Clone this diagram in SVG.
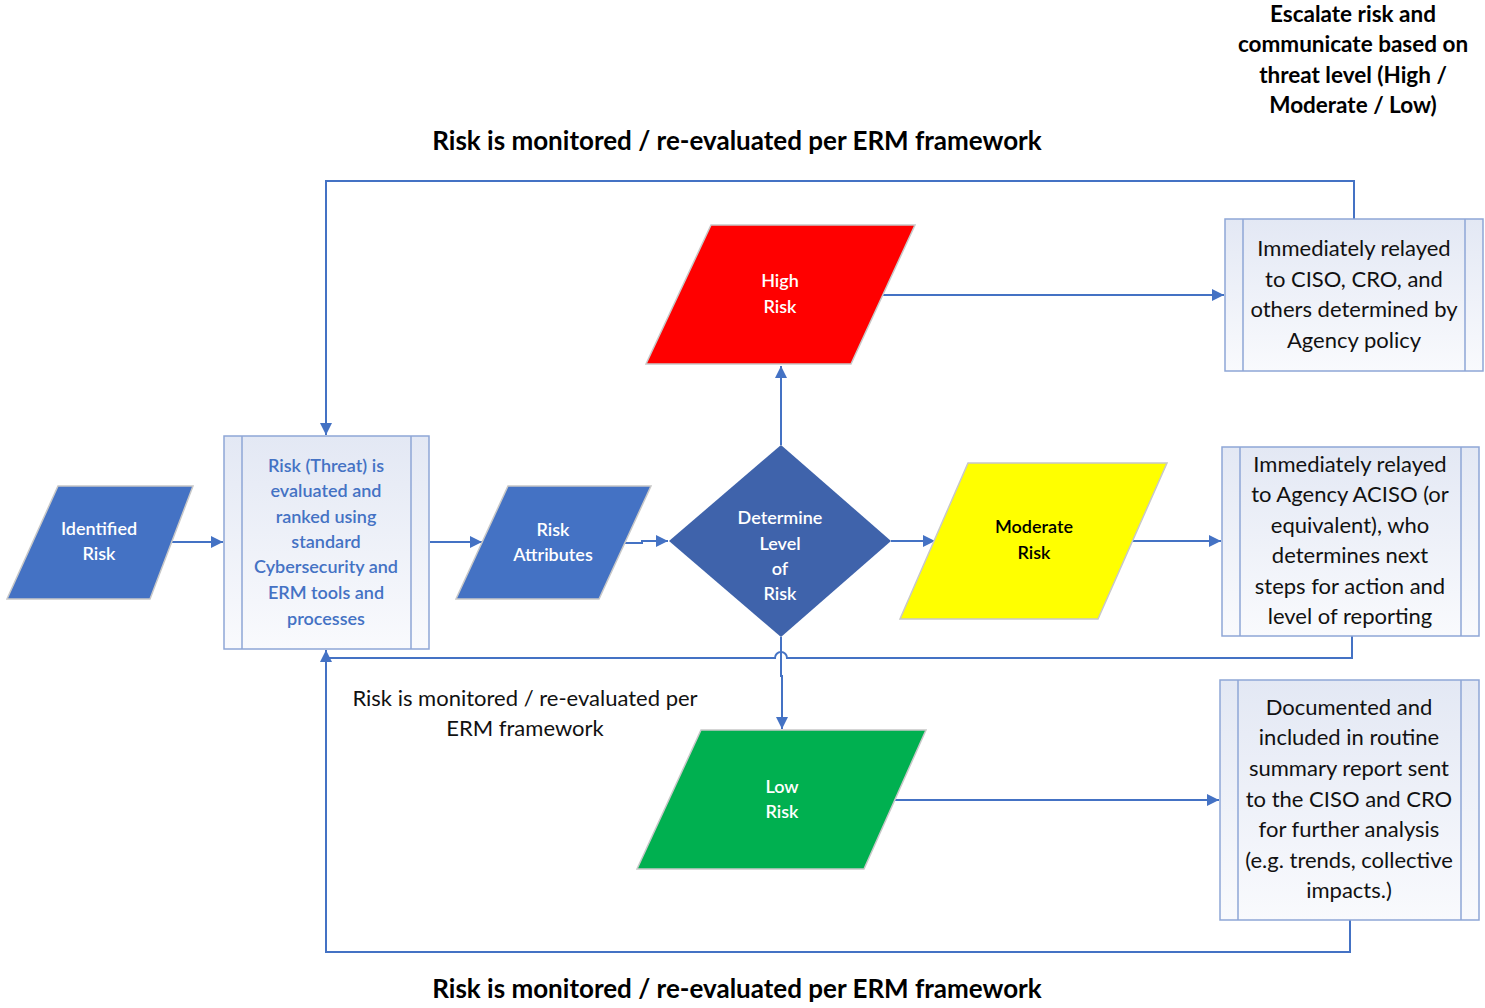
<svg xmlns="http://www.w3.org/2000/svg" width="1485" height="1008" viewBox="0 0 1485 1008">
<style>
.t{font-family:Lato,"Open Sans","Liberation Sans",sans-serif;text-anchor:middle}
.title{font-size:26px;font-weight:bold;fill:#000}
.esc{font-size:22.5px;font-weight:bold;fill:#000}
.box{fill:url(#g);stroke:#8EA6D6;stroke-width:1.5}
.inner{stroke:#8EA6D6;stroke-width:1.5}
.bt{font-size:22px;fill:#111}
.wt{font-size:18px;font-weight:600;fill:#fff}
.pt{font-size:18px;font-weight:600;fill:#4472C4}
.c{fill:none;stroke:#4472C4;stroke-width:2}
.pg{stroke:#C8C8C8;stroke-width:1.5}
</style>
<defs>
<linearGradient id="g" x1="0" y1="0" x2="0" y2="1">
<stop offset="0" stop-color="#E3E8F4"/>
<stop offset="1" stop-color="#F9FAFD"/>
</linearGradient>
<marker id="a" viewBox="0 0 10 10" refX="10" refY="5" markerWidth="6" markerHeight="6" orient="auto" markerUnits="strokeWidth">
<path d="M0,0 L10,5 L0,10 z" fill="#4472C4"/>
</marker>
</defs>
<rect width="1485" height="1008" fill="#fff"/>

<g id="labels">
<text class="t title" x="737" y="150">Risk is monitored / re-evaluated per ERM framework</text>
<text class="t title" x="737" y="998">Risk is monitored / re-evaluated per ERM framework</text>
<text class="t esc" x="1353" y="22">Escalate risk and</text>
<text class="t esc" x="1353" y="52">communicate based on</text>
<text class="t esc" x="1353" y="83">threat level (High /</text>
<text class="t esc" x="1353" y="113">Moderate / Low)</text>
<text class="t bt" x="525" y="706">Risk is monitored / re-evaluated per</text>
<text class="t bt" x="525" y="736">ERM framework</text>
</g>

<g id="connectors">
<line class="c" x1="172" y1="542" x2="223" y2="542" marker-end="url(#a)"/>
<line class="c" x1="430" y1="542" x2="482" y2="542" marker-end="url(#a)"/>
<polyline class="c" points="624,543 642,543 642,541 668,541" marker-end="url(#a)"/>
<line class="c" x1="781" y1="445" x2="781" y2="366" marker-end="url(#a)"/>
<line class="c" x1="883" y1="295" x2="1224" y2="295" marker-end="url(#a)"/>
<line class="c" x1="891" y1="541" x2="935" y2="541" marker-end="url(#a)"/>
<line class="c" x1="1132" y1="541" x2="1221" y2="541" marker-end="url(#a)"/>
<path class="c" d="M781,637 L781,676 L782,676 L782,729" marker-end="url(#a)"/>
<line class="c" x1="895" y1="800" x2="1219" y2="800" marker-end="url(#a)"/>
<polyline class="c" points="1354,219 1354,181 326,181 326,435" marker-end="url(#a)"/>
<path class="c" d="M1352,636 L1352,658 L787,658 A6,6 0 0 0 775,658 L326,658"/>
<polyline class="c" points="1350,920 1350,952 326,952 326,650" marker-end="url(#a)"/>
</g>

<g id="identified">
<polygon class="pg" points="58,486 193,486 150,599 7,599" fill="#4472C4"/>
<text class="t wt" x="99" y="535">Identified</text>
<text class="t wt" x="99" y="560">Risk</text>
</g>

<g id="process">
<rect class="box" x="224" y="436" width="205" height="213"/>
<line class="inner" x1="242" y1="436" x2="242" y2="649"/>
<line class="inner" x1="411" y1="436" x2="411" y2="649"/>
<text class="t pt" x="326" y="472">Risk (Threat) is</text>
<text class="t pt" x="326" y="497">evaluated and</text>
<text class="t pt" x="326" y="523">ranked using</text>
<text class="t pt" x="326" y="548">standard</text>
<text class="t pt" x="326" y="573">Cybersecurity and</text>
<text class="t pt" x="326" y="599">ERM tools and</text>
<text class="t pt" x="326" y="625">processes</text>
</g>

<g id="attributes">
<polygon class="pg" points="508,486 651,486 599,599 456,599" fill="#4472C4"/>
<text class="t wt" x="553" y="536">Risk</text>
<text class="t wt" x="553" y="561">Attributes</text>
</g>

<g id="decision">
<polygon points="781,445 891,541 781,637 669,541" fill="#3F63AB"/>
<text class="t wt" x="780" y="524">Determine</text>
<text class="t wt" x="780" y="550">Level</text>
<text class="t wt" x="780" y="575">of</text>
<text class="t wt" x="780" y="600">Risk</text>
</g>

<g id="high">
<polygon class="pg" points="711,225 915,225 851,364 646,364" fill="#FF0000"/>
<text class="t wt" x="780" y="287">High</text>
<text class="t wt" x="780" y="313">Risk</text>
</g>

<g id="moderate">
<polygon class="pg" points="968,463 1167,463 1098,619 900,619" fill="#FFFF00"/>
<text class="t wt" x="1034" y="533" style="fill:#000">Moderate</text>
<text class="t wt" x="1034" y="559" style="fill:#000">Risk</text>
</g>

<g id="low">
<polygon class="pg" points="701,730 926,730 864,869 637,869" fill="#00B050"/>
<text class="t wt" x="782" y="793">Low</text>
<text class="t wt" x="782" y="818">Risk</text>
</g>

<g id="box-high">
<rect class="box" x="1225" y="219" width="258" height="152"/>
<line class="inner" x1="1243" y1="219" x2="1243" y2="371"/>
<line class="inner" x1="1465" y1="219" x2="1465" y2="371"/>
<text class="t bt" x="1354" y="256">Immediately relayed</text>
<text class="t bt" x="1354" y="287">to CISO, CRO, and</text>
<text class="t bt" x="1354" y="317">others determined by</text>
<text class="t bt" x="1354" y="348">Agency policy</text>
</g>

<g id="box-moderate">
<rect class="box" x="1222" y="447" width="257" height="189"/>
<line class="inner" x1="1240" y1="447" x2="1240" y2="636"/>
<line class="inner" x1="1461" y1="447" x2="1461" y2="636"/>
<text class="t bt" x="1350" y="472">Immediately relayed</text>
<text class="t bt" x="1350" y="502">to Agency ACISO (or</text>
<text class="t bt" x="1350" y="533">equivalent), who</text>
<text class="t bt" x="1350" y="563">determines next</text>
<text class="t bt" x="1350" y="594">steps for action and</text>
<text class="t bt" x="1350" y="624">level of reporting</text>
</g>

<g id="box-low">
<rect class="box" x="1220" y="680" width="259" height="240"/>
<line class="inner" x1="1238" y1="680" x2="1238" y2="920"/>
<line class="inner" x1="1461" y1="680" x2="1461" y2="920"/>
<text class="t bt" x="1349" y="715">Documented and</text>
<text class="t bt" x="1349" y="745">included in routine</text>
<text class="t bt" x="1349" y="776">summary report sent</text>
<text class="t bt" x="1349" y="807">to the CISO and CRO</text>
<text class="t bt" x="1349" y="837">for further analysis</text>
<text class="t bt" x="1349" y="868">(e.g. trends, collective</text>
<text class="t bt" x="1349" y="898">impacts.)</text>
</g>
</svg>
